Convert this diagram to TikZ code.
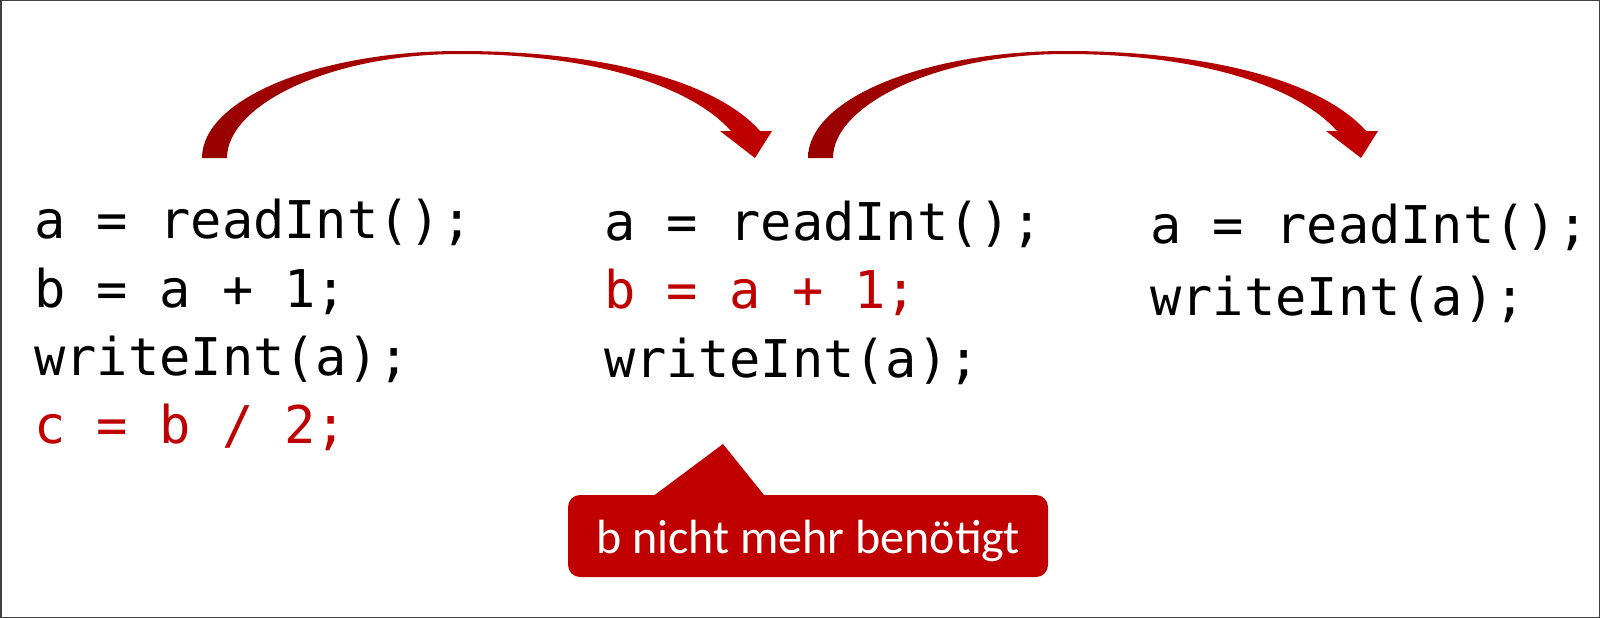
\documentclass[tikz,border=0pt]{standalone}
\usepackage{fontspec}
\newfontfamily\codefont{DejaVu Sans Mono}
\newfontfamily\notefont{Carlito}
\definecolor{accent}{HTML}{C00000}
\definecolor{accentdark}{HTML}{990000}
\definecolor{framegray}{HTML}{404040}
\tikzset{
  codeline/.style={anchor=base west, inner sep=0pt, text=black, font=\codefont\fontsize{52}{60}\selectfont},
  redline/.style={codeline, text=accent},
  notebox/.style={fill=accent, rounded corners=12pt, minimum width=480pt, minimum height=82pt,
    inner sep=0pt, text=white, text height=38pt, text depth=4pt, font=\notefont\fontsize{48}{56}\selectfont},
  bendarrow/.style={left color=accentdark, right color=accent},
}
\newcommand{\drawbendarrow}{%
  \shade[bendarrow]
   (202,158) .. controls (202,99) and (318,51) .. (460,51)
   .. controls (600,51) and (715,80) .. (760,131)
   -- (772,131) -- (755,158) -- (720,131) -- (731,131)
   .. controls (690,85) and (590,54) .. (460,54)
   .. controls (330,54) and (227,105) .. (227,158) -- cycle;}
\begin{document}
\begin{tikzpicture}[x=1pt,y=-1pt]
\useasboundingbox (0,0) rectangle (1600,618);
\fill[white] (0,0) rectangle (1600,618);
\draw[framegray, line width=1.5pt] (0.75,0.75) rectangle (1599.25,617.25);

% bent arrows
\drawbendarrow
\begin{scope}[xshift=606pt]
\drawbendarrow
\end{scope}

% column 1
\node[codeline] (a1) at (34,238) {a = readInt();};
\node[codeline] (b1) at (34,307) {b = a + 1;};
\node[codeline] (w1) at (34,375) {writeInt(a);};
\node[redline]  (c1) at (34,443) {c = b / 2;};

% column 2
\node[codeline] (a2) at (604,240) {a = readInt();};
\node[redline]  (b2) at (604,308) {b = a + 1;};
\node[codeline] (w2) at (604,377) {writeInt(a);};

% column 3
\node[codeline] (a3) at (1150,243) {a = readInt();};
\node[codeline] (w3) at (1150,315) {writeInt(a);};

% callout
\coordinate (pointer) at (723,444);
\fill[accent] (648,500) -- (pointer) -- (768,500) -- cycle;
\node[notebox] (note) at (808,536) {b nicht mehr benötigt};
\end{tikzpicture}
\end{document}
